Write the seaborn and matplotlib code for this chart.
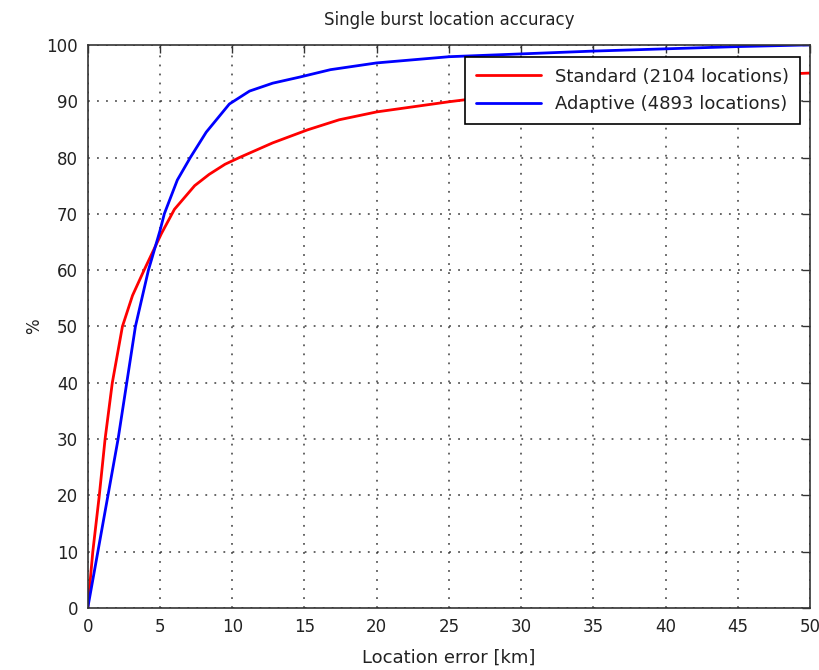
import numpy as np
import pandas as pd
import seaborn as sns
import matplotlib.pyplot as plt

# cumulative location accuracy
std_km = [0, 0.35, 0.8, 1.2, 1.7, 2.4, 3.1, 3.9, 5.1, 6.0, 7.4, 8.4, 9.5, 10.5, 12.8, 15.2, 17.4,
          20, 25, 30, 35, 40, 45, 50]
std_pct = [0, 10, 20, 30, 40, 50, 55.5, 60, 66.5, 70.8, 75, 77, 78.8, 80, 82.6, 84.9, 86.7,
           88.1, 89.9, 91.5, 92.8, 93.8, 94.5, 95]

ada_km = [0, 0.7, 1.4, 2.1, 2.7, 3.3, 4.2, 5.0, 5.3, 6.2, 7.1, 8.2, 9.8, 11.2, 12.8, 14.7,
          16.8, 20, 25, 30, 35, 40, 45, 50]
ada_pct = [0, 10, 20, 30, 40, 50, 60, 67, 70, 76, 80, 84.5, 89.5, 91.8, 93.2, 94.3,
           95.6, 96.8, 97.9, 98.4, 98.9, 99.3, 99.7, 100]

std_label = 'Standard (2104 locations)'
ada_label = 'Adaptive (4893 locations)'

df = pd.concat([
    pd.DataFrame({'km': std_km, 'pct': std_pct, 'series': std_label}),
    pd.DataFrame({'km': ada_km, 'pct': ada_pct, 'series': ada_label}),
])

sns.set_style('white')
plt.rcParams['font.family'] = ['DejaVu Sans']

fig = plt.figure(figsize=(8.2, 6.7), dpi=100)
ax = fig.add_axes([0.107, 0.0925, 0.881, 0.8405])
sns.lineplot(data=df, x='km', y='pct', hue='series', sort=False,
             palette={std_label: '#ff0000', ada_label: '#0000ff'},
             linewidth=2, ax=ax)

ax.set_xlim(0, 50)
ax.set_ylim(0, 100)
ax.set_xticks(np.arange(0, 51, 5))
ax.set_yticks(np.arange(0, 101, 10))
ax.grid(True, color='#222222', linestyle=(0, (1, 4)), linewidth=1.3, alpha=0.75)
ax.tick_params(direction='in', length=6, width=1, labelsize=12, top=True, right=True,
               pad=7, colors='#333333', labelcolor='#222222')
for s in ax.spines.values():
    s.set_color('#333333')
    s.set_linewidth(1.2)
ax.set_xlabel('Location error [km]', fontsize=13, labelpad=9, color='#222222')
ax.set_ylabel('%', fontsize=12, labelpad=2, color='#222222')
ax.set_title('Single burst location accuracy', fontsize=12, pad=14, color='#222222')

leg = ax.legend(loc='upper right', bbox_to_anchor=(0.986, 0.979), fontsize=13,
                frameon=True, fancybox=False, framealpha=1, borderaxespad=0,
                handlelength=3.6, labelspacing=0.55, borderpad=0.6, title=None)
leg.get_frame().set_edgecolor('black')
leg.get_frame().set_linewidth(1.2)
for t in leg.get_texts():
    t.set_color('#222222')

fig.savefig('out.png', dpi=100)
